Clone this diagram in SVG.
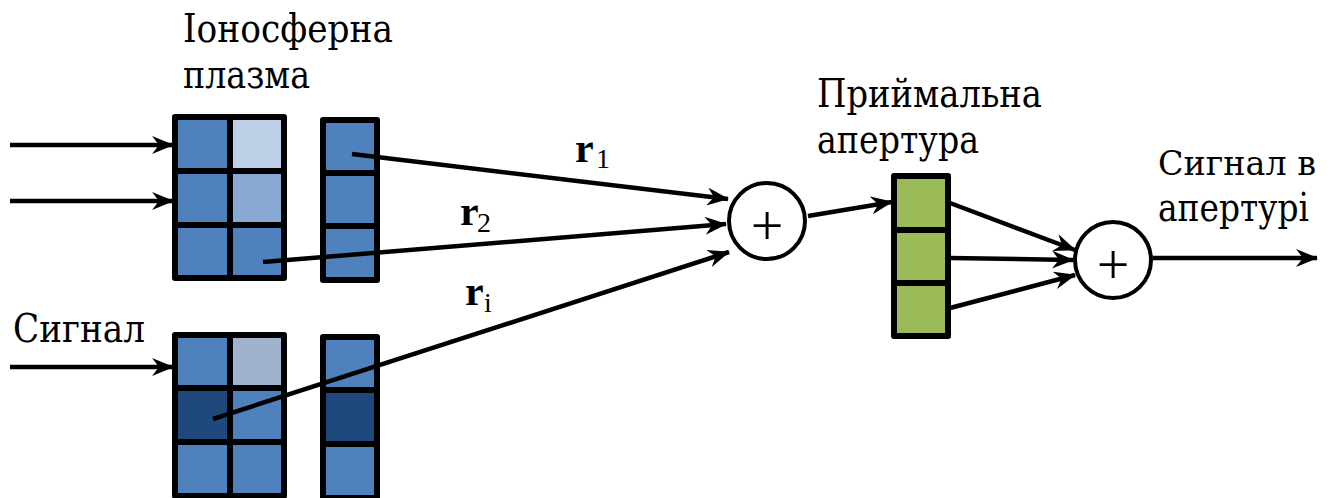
<svg xmlns="http://www.w3.org/2000/svg" width="1337" height="498" viewBox="0 0 1337 498">
<style>
.cell{stroke:#000;stroke-width:6;stroke-linejoin:round}
.b{fill:#4F81BD}
.l1{fill:#BDD0E7}
.l2{fill:#88A9D4}
.g1{fill:#A0B2CC}
.d{fill:#1F497D}
.gr{fill:#9BBB59}
.ln{stroke:#000;stroke-width:4.5;fill:none}
.arr{marker-end:url(#ah)}
.t{font-family:"DejaVu Serif","Liberation Serif","Times New Roman",serif;font-size:39px;fill:#000}
.ts{font-size:34px}
.r{font-family:"Liberation Serif","Times New Roman",serif;font-size:42px;font-weight:bold;fill:#000}
.sub{font-family:"Liberation Serif","Times New Roman",serif;font-size:28px;fill:#000}
.sum{fill:#fff;stroke:#000;stroke-width:4}
.plus{font-family:"Liberation Serif","Times New Roman",serif;font-size:58px;fill:#000;text-anchor:middle}
</style>
<defs>
<marker id="ah" viewBox="0 0 22 18" markerWidth="22" markerHeight="18" markerUnits="userSpaceOnUse" refX="21" refY="9" orient="auto">
<path d="M0,0 L22,9 L0,18 L7,9 z" fill="#000"/>
</marker>
</defs>
<rect width="1337" height="498" fill="#fff"/>

<g id="label-plasma">
<text class="t" x="183" y="42" textLength="210" lengthAdjust="spacingAndGlyphs">Іоносферна</text>
<text class="t" x="183" y="88" textLength="127" lengthAdjust="spacingAndGlyphs">плазма</text>
</g>
<g id="label-signal">
<text class="t" x="13" y="342" textLength="132" lengthAdjust="spacingAndGlyphs">Сигнал</text>
</g>
<g id="label-aperture">
<text class="t" x="817" y="107" textLength="225" lengthAdjust="spacingAndGlyphs">Приймальна</text>
<text class="t" x="817" y="153" textLength="162" lengthAdjust="spacingAndGlyphs">апертура</text>
</g>
<g id="label-out">
<text class="t ts" x="1158" y="175" textLength="158" lengthAdjust="spacingAndGlyphs">Сигнал в</text>
<text class="t" x="1158" y="221" textLength="151" lengthAdjust="spacingAndGlyphs">апертурі</text>
</g>

<g id="plasma-upper">
<rect class="cell b" x="175" y="117" width="55" height="54"/>
<rect class="cell l1" x="230" y="117" width="54" height="54"/>
<rect class="cell b" x="175" y="171" width="55" height="54"/>
<rect class="cell l2" x="230" y="171" width="54" height="54"/>
<rect class="cell b" x="175" y="225" width="55" height="53"/>
<rect class="cell b" x="230" y="225" width="54" height="53"/>
</g>
<g id="column-upper">
<rect class="cell b" x="323" y="120" width="54" height="53"/>
<rect class="cell b" x="323" y="173" width="54" height="53"/>
<rect class="cell b" x="323" y="226" width="54" height="54"/>
</g>
<g id="plasma-lower">
<rect class="cell b" x="175" y="335" width="55" height="53"/>
<rect class="cell g1" x="230" y="335" width="54" height="53"/>
<rect class="cell d" x="175" y="388" width="55" height="54"/>
<rect class="cell b" x="230" y="388" width="54" height="54"/>
<rect class="cell b" x="175" y="442" width="55" height="54"/>
<rect class="cell b" x="230" y="442" width="54" height="54"/>
</g>
<g id="column-lower">
<rect class="cell b" x="323" y="337" width="54" height="53"/>
<rect class="cell d" x="323" y="390" width="54" height="54"/>
<rect class="cell b" x="323" y="444" width="54" height="54"/>
</g>
<g id="aperture">
<rect class="cell gr" x="894" y="176" width="54" height="54"/>
<rect class="cell gr" x="894" y="230" width="54" height="53"/>
<rect class="cell gr" x="894" y="283" width="54" height="53"/>
</g>

<g id="connectors">
<line class="ln arr" x1="10" y1="145" x2="173" y2="145"/>
<line class="ln arr" x1="10" y1="201" x2="173" y2="201"/>
<line class="ln arr" x1="10" y1="367" x2="173" y2="367"/>
<line class="ln arr" x1="352" y1="154" x2="728" y2="199"/>
<line class="ln arr" x1="263" y1="262" x2="726" y2="224"/>
<line class="ln arr" x1="213" y1="419" x2="729" y2="252"/>
<line class="ln arr" x1="808" y1="216" x2="892" y2="202"/>
<line class="ln arr" x1="950" y1="203" x2="1075" y2="250"/>
<line class="ln arr" x1="950" y1="258" x2="1073" y2="260"/>
<line class="ln arr" x1="950" y1="308" x2="1075" y2="275"/>
<line class="ln arr" x1="1153" y1="258" x2="1317" y2="258"/>
</g>

<g id="sum1">
<circle class="sum" cx="767" cy="221" r="38"/>
<text class="plus" x="767" y="245">+</text>
</g>
<g id="sum2">
<circle class="sum" cx="1113" cy="260" r="38"/>
<text class="plus" x="1113" y="284">+</text>
</g>

<g id="labels-r">
<text class="r" x="575" y="162">r</text><text class="sub" x="596" y="168">1</text>
<text class="r" x="460" y="225">r</text><text class="sub" x="477" y="232">2</text>
<text class="r" x="465" y="305">r</text><text class="sub" x="484" y="312">i</text>
</g>
</svg>
